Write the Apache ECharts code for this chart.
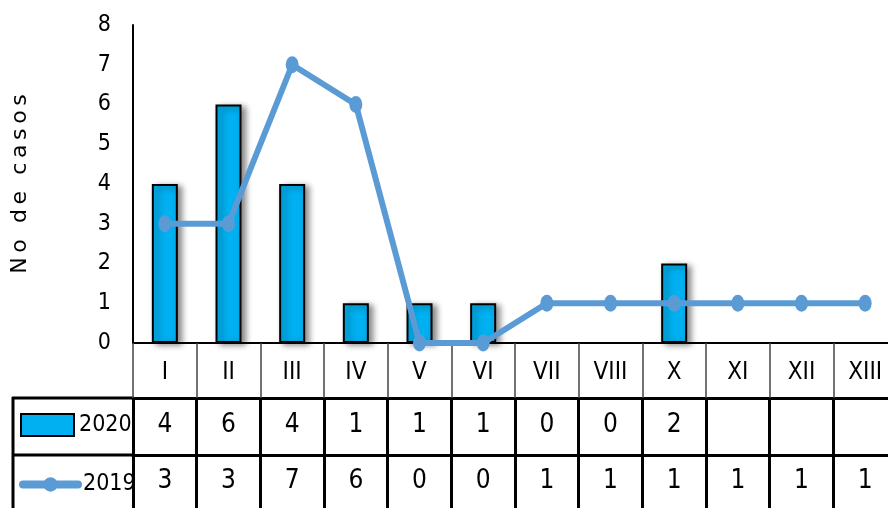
<!DOCTYPE html>
<html>
<head>
<meta charset="utf-8">
<script src="https://cdn.jsdelivr.net/npm/echarts@6/dist/echarts.min.js"></script>
<style>
  html, body { margin: 0; padding: 0; background: #fff; }
  #chart { width: 888px; height: 508px; }
</style>
</head>
<body>
<div id="chart"></div>
<script>
// Weekly case counts (epidemiological weeks I..XIII, IX not reported)
const categories = ['I', 'II', 'III', 'IV', 'V', 'VI', 'VII', 'VIII', 'X', 'XI', 'XII', 'XIII'];
const cases2020 = [4, 6, 4, 1, 1, 1, 0, 0, 2, null, null, null];
const cases2019 = [3, 3, 7, 6, 0, 0, 1, 1, 1, 1, 1, 1];
const yTicks = { min: 0, max: 8, interval: 1 };
const yTitle = 'No de casos';

const NARROW = '"DejaVu Sans Condensed", "Liberation Sans Narrow", sans-serif';
const BAR_COLOR = '#00B0F0';
const LINE_COLOR = '#5B9BD5';

const chart = echarts.init(document.getElementById('chart'), null, { renderer: 'canvas' });

// zero-height bars are drawn without border or shadow
const barData = cases2020.map(v => v === 0
  ? { value: 0, itemStyle: { borderWidth: 0, shadowBlur: 0, shadowOffsetX: 0, shadowOffsetY: 0, shadowColor: 'rgba(0,0,0,0)' } }
  : v);

// letter-spaced axis title via rich text segments
const spacedTitle = yTitle.split('').map(c => '{l|' + c + '}').join('');

// table row rendered as an extra bottom x axis whose labels are the row values
function tableRowAxis(values, offset, tickLen, margin) {
  return {
    type: 'category',
    data: categories,
    gridIndex: 0,
    position: 'bottom',
    offset: offset,
    boundaryGap: true,
    axisLine: { show: true, lineStyle: { color: '#000', width: 3 } },
    axisTick: { show: true, length: tickLen, lineStyle: { color: '#000', width: 3 } },
    axisLabel: {
      interval: 0,
      margin: margin,
      fontFamily: NARROW,
      fontSize: 26,
      color: '#000',
      formatter: (v, i) => (values[i] === null || values[i] === undefined ? '' : String(values[i]))
    },
    splitLine: { show: false }
  };
}

const legendText = { fontFamily: NARROW, fontSize: 23, color: '#000' };

const option = {
  backgroundColor: '#fff',
  animation: false,
  grid: { left: 133, width: 764, top: 25, bottom: 165, containLabel: false, outerBoundsMode: 'none' },
  legend: [
    {
      left: 20,
      top: 413,
      padding: 0,
      itemWidth: 53,
      itemHeight: 22,
      itemGap: 0,
      textStyle: legendText,
      data: [
        { name: '2020', icon: 'rect', itemStyle: { color: BAR_COLOR, borderColor: '#000', borderWidth: 2, shadowBlur: 0, shadowOffsetX: 0, shadowOffsetY: 0 } }
      ]
    },
    {
      left: 19,
      top: 473,
      padding: 0,
      itemWidth: 55,
      itemHeight: 18,
      itemGap: 0,
      textStyle: legendText,
      lineStyle: { width: 8, color: LINE_COLOR, cap: 'round' },
      data: [{ name: '2019' }]
    }
  ],
  xAxis: [
    {
      type: 'category',
      data: categories,
      position: 'bottom',
      boundaryGap: true,
      axisLine: { show: true, lineStyle: { color: '#000', width: 2 } },
      axisTick: { show: true, length: 55, lineStyle: { color: '#444', width: 1.5 } },
      axisLabel: { interval: 0, margin: 18, fontFamily: NARROW, fontSize: 24, color: '#000' },
      splitLine: { show: false }
    },
    tableRowAxis(cases2020, 55, 57, 14),
    tableRowAxis(cases2019, 112, 60, 13)
  ],
  yAxis: {
    type: 'value',
    min: yTicks.min,
    max: yTicks.max,
    interval: yTicks.interval,
    name: spacedTitle,
    nameLocation: 'middle',
    nameRotate: 90,
    nameGap: 102,
    nameTextStyle: {
      color: '#000',
      rich: { l: { fontFamily: '"DejaVu Sans", Verdana, sans-serif', fontSize: 22, color: '#000', padding: [0, 2.3, 0, 2.3] } }
    },
    axisLine: { show: true, lineStyle: { color: '#000', width: 2 } },
    axisTick: { show: false },
    splitLine: { show: false },
    axisLabel: { margin: 22, fontFamily: NARROW, fontSize: 23, color: '#000' }
  },
  graphic: [
    // left column of the data table (series names)
    { type: 'line', shape: { x1: 12, y1: 398, x2: 134, y2: 398 }, style: { stroke: '#000', lineWidth: 3 } },
    { type: 'line', shape: { x1: 12, y1: 455, x2: 134, y2: 455 }, style: { stroke: '#000', lineWidth: 3 } },
    { type: 'line', shape: { x1: 13, y1: 397, x2: 13, y2: 510 }, style: { stroke: '#000', lineWidth: 3 } }
  ],
  series: [
    {
      name: '2020',
      type: 'bar',
      xAxisIndex: 0,
      data: barData,
      barWidth: 26,
      itemStyle: {
        color: BAR_COLOR,
        borderColor: '#000',
        borderWidth: 2,
        shadowColor: 'rgba(0,0,0,0.45)',
        shadowBlur: 6,
        shadowOffsetX: 4,
        shadowOffsetY: 2
      },
      z: 2
    },
    {
      name: '2019',
      type: 'line',
      xAxisIndex: 0,
      data: cases2019,
      symbol: 'circle',
      symbolSize: [13, 17],
      lineStyle: { color: LINE_COLOR, width: 6 },
      itemStyle: { color: LINE_COLOR },
      z: 3
    }
  ]
};

chart.setOption(option);
</script>
</body>
</html>
